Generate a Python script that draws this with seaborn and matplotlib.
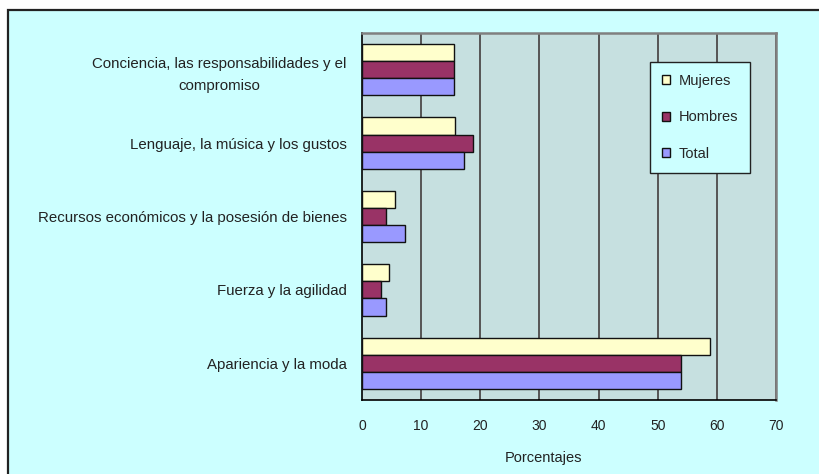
import matplotlib
matplotlib.use("Agg")
import matplotlib.pyplot as plt
import matplotlib.patches as mpatches
import pandas as pd
import seaborn as sns

# categories, top to bottom
categories = [
    "Conciencia, las responsabilidades y el\ncompromiso",
    "Lenguaje, la música y los gustos",
    "Recursos económicos y la posesión de bienes",
    "Fuerza y la agilidad",
    "Apariencia y la moda",
]
groups = ["Mujeres", "Hombres", "Total"]
mujeres = [15.6, 15.8, 5.6, 4.6, 58.9]
hombres = [15.6, 18.7, 4.0, 3.2, 54.0]
total = [15.6, 17.3, 7.3, 4.0, 54.0]
x_ticks = [0, 10, 20, 30, 40, 50, 60, 70]

colors = ["#FFFFCC", "#993366", "#9999FF"]

df = pd.DataFrame({
    "categoria": categories * 3,
    "grupo": [g for g in groups for _ in categories],
    "valor": mujeres + hombres + total,
})

sns.set_theme(style="white")
plt.rcParams["font.family"] = ["Liberation Sans", "DejaVu Sans"]

fig = plt.figure(figsize=(8.19, 4.74), dpi=100)
fig.patch.set_facecolor("white")

# outer chart frame
fig.patches.append(mpatches.Rectangle(
    (8 / 819, -0.05), 1.1, 1.05 - 10 / 474, transform=fig.transFigure,
    facecolor="#CCFFFF", edgecolor="#222222", linewidth=1.6, zorder=-10))

ax = fig.add_axes([362 / 819, 1 - 400 / 474, (776 - 362) / 819, (400 - 33) / 474])
ax.set_facecolor("#C6E0E0")

sns.barplot(data=df, x="valor", y="categoria", hue="grupo", hue_order=groups,
            palette=colors, orient="h", width=0.7, saturation=1,
            edgecolor="#111111", linewidth=1.0, ax=ax, zorder=3)

ax.set_xlim(0, 70)
ax.set_ylim(4.5, -0.5)
ax.set_xticks(x_ticks)
ax.set_xticklabels([str(t) for t in x_ticks], fontsize=10, color="#222222")
for t in x_ticks[1:]:
    ax.axvline(t, color="#555555", linewidth=1.4, zorder=1)

# y ticks between categories
ax.set_yticks(range(len(categories)))
ax.set_yticklabels(categories, fontsize=10.8, color="#222222",
                   multialignment="center", linespacing=1.7)
ax.tick_params(axis="y", which="major", length=0, pad=11)
ax.set_yticks([i - 0.5 for i in range(len(categories) + 1)], minor=True)
ax.tick_params(axis="y", which="minor", length=4, width=1, color="black", direction="out")
ax.tick_params(axis="x", which="major", length=8, width=1, color="black",
               direction="inout", pad=10)

ax.set_ylabel("")
ax.set_xlabel("Porcentajes", fontsize=10.5, color="#222222")
ax.xaxis.set_label_coords((543 - 362) / 414, -0.14)

for side in ["left", "bottom"]:
    ax.spines[side].set_color("black")
    ax.spines[side].set_linewidth(1.2)
for side in ["top", "right"]:
    ax.spines[side].set_color("#808080")
    ax.spines[side].set_linewidth(1.8)

leg = ax.legend(loc="upper left", bbox_to_anchor=((650 - 362) / 414, (400 - 62) / 367),
                frameon=True, fancybox=False, fontsize=10.5, handlelength=0.55,
                handleheight=0.55, labelspacing=1.55, borderpad=0.8, handletextpad=0.6,
                borderaxespad=0)
leg.get_frame().set_facecolor("#CCFFFF")
leg.get_frame().set_edgecolor("#222222")
leg.get_frame().set_linewidth(1.0)
leg.get_frame().set_alpha(1)
leg.set_zorder(5)

fig.savefig("out.png", dpi=100, facecolor=fig.get_facecolor())
